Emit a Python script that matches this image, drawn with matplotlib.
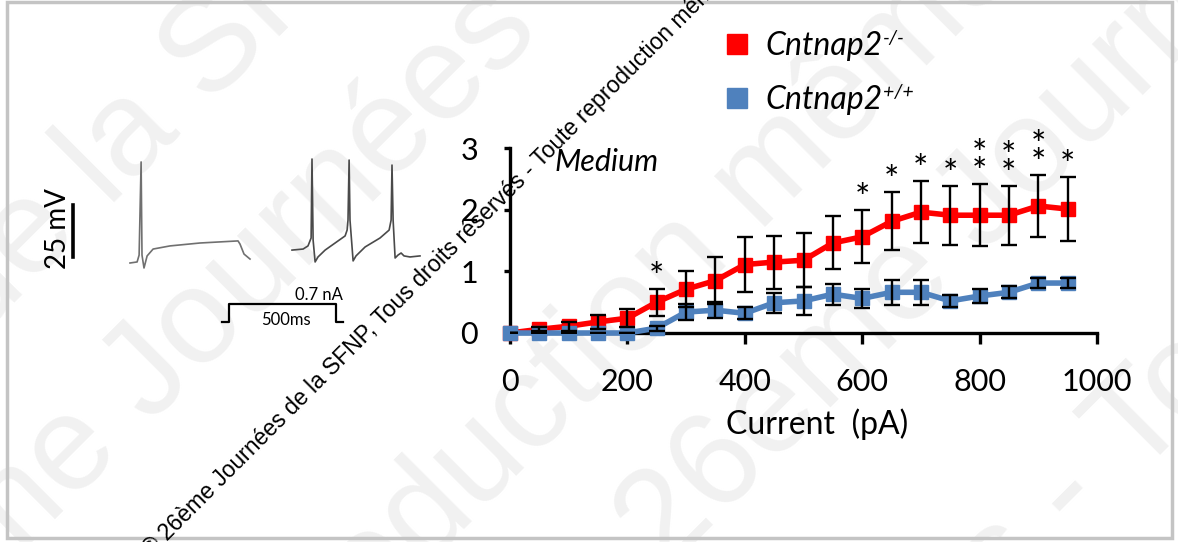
import matplotlib
matplotlib.use("Agg")
import matplotlib.pyplot as plt
from matplotlib.lines import Line2D
from matplotlib.patches import Rectangle

plt.rcParams['font.family'] = ['Lato', 'DejaVu Sans']

# spikes per current step (mean +/- sem)
current = [0, 50, 100, 150, 200, 250, 300, 350, 400, 450,
           500, 550, 600, 650, 700, 750, 800, 850, 900, 950]
ko_mean = [0, 0.06, 0.11, 0.18, 0.24, 0.50, 0.71, 0.85, 1.11, 1.15,
           1.18, 1.46, 1.56, 1.81, 1.96, 1.91, 1.91, 1.91, 2.06, 2.01]
ko_sem = [0, 0.03, 0.07, 0.12, 0.15, 0.22, 0.29, 0.38, 0.44, 0.43,
          0.44, 0.43, 0.43, 0.47, 0.50, 0.48, 0.50, 0.48, 0.50, 0.52]
wt_mean = [0, 0, 0, 0, 0, 0.08, 0.34, 0.37, 0.32, 0.49,
           0.52, 0.63, 0.56, 0.66, 0.66, 0.52, 0.60, 0.66, 0.81, 0.81]
wt_sem = [0, 0, 0, 0, 0, 0.04, 0.13, 0.13, 0.10, 0.16,
          0.22, 0.17, 0.15, 0.20, 0.20, 0.10, 0.12, 0.10, 0.08, 0.08]
n_stars = [0, 0, 0, 0, 0, 1, 0, 0, 0, 0,
           0, 0, 1, 1, 1, 1, 2, 2, 2, 1]

gene = 'Cntnap2'
genotypes = ['-/-', '+/+']
red = '#ff0000'
blue = '#4f81bd'

# example traces (ms, mV)
t1 = [0, 32, 41, 50, 54, 63, 77, 104, 180, 315, 486, 495, 513, 540]
v1 = [0, 0.5, 3.8, 48.5, 3.8, -2.4, 3.4, 6.7, 8.2, 9.6, 10.6, 9.1, 4.3, 1.9]
t2 = [729, 779, 801, 815, 819, 824, 833, 846, 878, 923, 968, 977, 981, 986,
      990, 1004, 1017, 1058, 1125, 1166, 1175, 1179, 1184, 1193, 1206, 1220,
      1233, 1260, 1305]
v2 = [6.2, 6.7, 8.2, 12.0, 49.9, 11.0, 0.5, 2.9, 6.2, 9.6, 13.0, 15.8, 20.6,
      49.4, 20.6, 1.0, 3.4, 7.7, 12.0, 15.8, 20.6, 47.0, 20.6, 2.4, 3.8, 4.8,
      3.4, 2.9, 3.4]
stim_t = [414, 446, 446, 927, 927, 959]
stim_v = [-28.3, -28.3, -19.7, -19.7, -28.3, -28.3]

W, H = 1178, 542
fig = plt.figure(figsize=(W / 100, H / 100), dpi=100)

# faint background watermark
bg = fig.add_axes([0, 0, 1, 1], zorder=-5)
bg.set_xlim(0, W)
bg.set_ylim(H, 0)
bg.axis('off')
wm = '#f1f1f1'
wm_lines = [
    ((108, 208), '© 26ème Journées de ', 'la SFNP, Tous droits réservés'),
    ((150, 425), '© 26ème ', 'Journées de la SFNP, Tous droits réservés'),
    ((759, 233), 'Tous droits réservés - Toute reproduction ', 'même partielle interdite'),
    ((666, 573), 'partielle interdite © ', '26ème Journées de la SFNP'),
    ((1136, 479), 'Tous droits réservés - ', 'Toute reproduction même'),
]
for (x, y), before, after in wm_lines:
    kw = dict(rotation=45, rotation_mode='anchor', va='baseline', color=wm,
              fontsize=97, family='Liberation Sans')
    bg.text(x, y, before, ha='right', **kw)
    bg.text(x, y, after, ha='left', **kw)

# main plot
ax = fig.add_axes([510 / W, 209 / H, 587 / W, 185 / H])
ax.patch.set_alpha(0)
ax.plot(current, ko_mean, color=red, lw=4, marker='s', ms=10, zorder=3, clip_on=False)
ax.plot(current, wt_mean, color=blue, lw=4, marker='s', ms=10, zorder=4, clip_on=False)
ax.errorbar(current, ko_mean, yerr=ko_sem, fmt='none', ecolor='black',
            elinewidth=1.7, capsize=6, capthick=1.7, zorder=5)
ax.errorbar(current, wt_mean, yerr=wt_sem, fmt='none', ecolor='black',
            elinewidth=1.7, capsize=6, capthick=1.7, zorder=5)
for x, m, e, n in zip(current, ko_mean, ko_sem, n_stars):
    for k in range(n):
        ax.annotate('*', (x, m + e), xytext=(0, 0 + 13 * k), textcoords='offset points',
                    ha='center', va='baseline', fontsize=26)

ax.set_xlim(0, 1000)
ax.set_ylim(0, 3)
ax.set_xticks([0, 200, 400, 600, 800, 1000])
ax.set_yticks([0, 1, 2, 3])
for s in ['top', 'right']:
    ax.spines[s].set_visible(False)
for s in ['left', 'bottom']:
    ax.spines[s].set_linewidth(2.4)
ax.tick_params(axis='x', length=8, width=2.4, pad=17, labelsize=22)
ax.tick_params(axis='y', length=4, width=2.4, pad=19, labelsize=22)
ax.set_xlabel('Current  (pA)', fontsize=23, labelpad=9, x=0.523)
ax.text(75, 2.77, 'Medium', fontsize=22, style='italic', va='center')

handles = [Line2D([], [], ls='none', marker='s', ms=14, color=c) for c in (red, blue)]
leg = fig.legend(handles, [gene, gene], loc='upper left',
                 bbox_to_anchor=(724 / W, 1 - 31 / H), frameon=False,
                 prop={'size': 23, 'style': 'italic'}, handlelength=0.8,
                 handletextpad=0.5, labelspacing=0.75, borderpad=0, borderaxespad=0)

# example traces inset
ins = fig.add_axes([40 / W, (H - 335) / H, 390 / W, 185 / H])
ins.patch.set_alpha(0)
ins.set_xlim(-405, 1350)
ins.set_ylim(-34.56, 54.24)
ins.axis('off')
ins.plot(t1, v1, color='#707070', lw=1.2)
ins.plot(t2, v2, color='#4a4a4a', lw=1.2)
ins.plot(stim_t, stim_v, color='black', lw=1.6)
ins.text(959, -19.0, '0.7 nA', ha='right', va='bottom', fontsize=12)
ins.text(700, -27.5, '500ms', ha='center', va='center', fontsize=12)
ins.plot([-256, -256], [2.9, 27.9], color='black', lw=2.6)
ins.text(-325, 16.5, '25 mV', rotation=90, ha='center', va='center', fontsize=20)

# foreground watermark and frame
fg = fig.add_axes([0, 0, 1, 1], zorder=10)
fg.patch.set_alpha(0)
fg.set_xlim(0, W)
fg.set_ylim(H, 0)
fg.axis('off')
for txt, g in zip(leg.get_texts(), genotypes):
    fg.annotate(g, xy=(1, 1), xycoords=txt, xytext=(0.5, 1), textcoords='offset points',
                ha='left', va='top', fontsize=14, style='italic', annotation_clip=False)
kw = dict(rotation=45, rotation_mode='anchor', va='baseline', fontsize=16.5,
          family='Liberation Sans', color='black')
fg.text(167, 541, '© ', ha='right', **kw)
fg.text(167, 541, '26ème Journées de la SFNP, Tous droits réservés - '
        'Toute reproduction même partielle interdite', ha='left', **kw)
fg.add_patch(Rectangle((7, 2), 1165, 536, fill=False, ec='#c4c4c4', lw=2.5))

fig.savefig('out.png', dpi=100)
